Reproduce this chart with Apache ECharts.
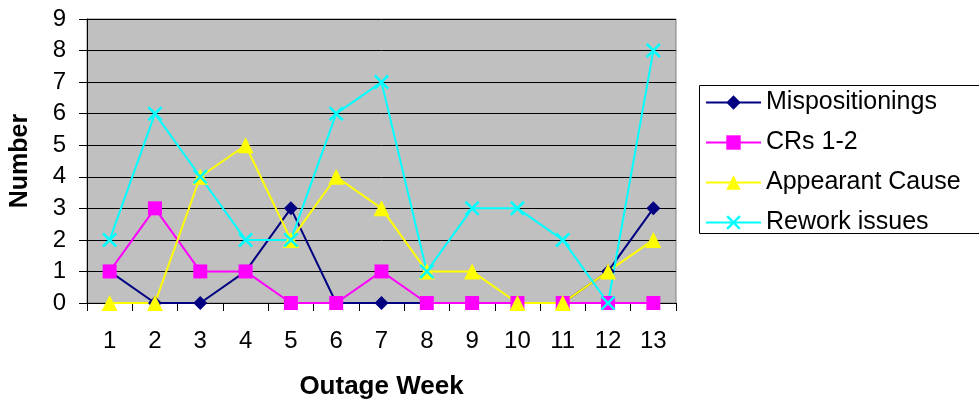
<!DOCTYPE html>
<html>
<head>
<meta charset="utf-8">
<script src="https://cdn.jsdelivr.net/npm/echarts@6/dist/echarts.min.js"></script>
<style>
  html, body { margin: 0; padding: 0; background: #fff; }
  #chart { width: 979px; height: 409px; }
</style>
</head>
<body>
<div id="chart"></div>
<script>
// data
const weeks = ['1', '2', '3', '4', '5', '6', '7', '8', '9', '10', '11', '12', '13']
const mispositionings = [1, 0, 0, 1, 3, 0, 0, 0, 0, 0, 0, 1, 3]
const crs12 = [1, 3, 1, 1, 0, 0, 1, 0, 0, 0, 0, 0, 0]
const appearantCause = [0, 0, 4, 5, 2, 4, 3, 1, 1, 0, 0, 1, 2]
const reworkIssues = [2, 6, 4, 2, 2, 6, 7, 1, 3, 3, 2, 0, 8]

const font = 'Liberation Sans, Arial, sans-serif'
// x-shaped marker as a filled outline
const crossSymbol = 'path://M0,1.2L1.2,0L5,3.8L8.8,0L10,1.2L6.2,5L10,8.8L8.8,10L5,6.2L1.2,10L0,8.8L3.8,5Z'

const mkSeries = (name, data, color, symbol, size) => ({
  name: name,
  type: 'line',
  data: data,
  symbol: symbol,
  symbolSize: size,
  lineStyle: { color: color, width: 2 },
  itemStyle: { color: color },
  emphasis: { disabled: true },
  animation: false,
})

const chart = echarts.init(document.getElementById('chart'))
chart.setOption({
  animation: false,
  textStyle: { fontFamily: font },
  // legend frame runs off the right edge like in the original
  graphic: [
    {
      type: 'rect',
      left: 697,
      top: 83,
      shape: { width: 320, height: 148 },
      style: { fill: 'none', stroke: '#000', lineWidth: 1 },
      silent: true,
    },
  ],
  grid: {
    left: 86,
    top: 19,
    width: 590,
    height: 284,
    show: true,
    backgroundColor: '#c0c0c0',
    borderColor: '#808080',
    borderWidth: 1,
  },
  legend: {
    orient: 'vertical',
    left: 697,
    top: 83,
    padding: [7, 10, 1, 8],
    itemGap: 15,
    itemWidth: 55,
    itemHeight: 18,
    borderWidth: 0,
    textStyle: { fontFamily: font, fontSize: 25, color: '#000' },
    data: ['Mispositionings', 'CRs 1-2', 'Appearant Cause', 'Rework issues'],
  },
  xAxis: {
    type: 'category',
    data: weeks,
    boundaryGap: true,
    name: 'Outage Week',
    nameLocation: 'middle',
    nameGap: 71,
    nameTextStyle: { fontFamily: font, fontSize: 26, fontWeight: 'bold', color: '#000' },
    axisLine: { lineStyle: { color: '#000', width: 1 } },
    axisTick: { show: true, alignWithLabel: false, length: 8, lineStyle: { color: '#000' } },
    axisLabel: { fontFamily: font, fontSize: 24, color: '#000', margin: 26 },
  },
  yAxis: {
    type: 'value',
    min: 0,
    max: 9,
    interval: 1,
    name: 'Number',
    nameLocation: 'middle',
    nameGap: 54,
    nameTextStyle: { fontFamily: font, fontSize: 25, fontWeight: 'bold', color: '#000' },
    axisLine: { show: true, lineStyle: { color: '#000', width: 1 } },
    axisTick: { show: true, length: 8, lineStyle: { color: '#000' } },
    axisLabel: { fontFamily: font, fontSize: 24, color: '#000', margin: 21 },
    splitLine: { show: true, lineStyle: { color: '#000', width: 1 } },
  },
  series: [
    mkSeries('Mispositionings', mispositionings, '#000080', 'diamond', 14),
    mkSeries('CRs 1-2', crs12, '#ff00ff', 'rect', 14),
    mkSeries('Appearant Cause', appearantCause, '#ffff00', 'triangle', 16),
    mkSeries('Rework issues', reworkIssues, '#00ffff', crossSymbol, 15),
  ],
})
</script>
</body>
</html>
